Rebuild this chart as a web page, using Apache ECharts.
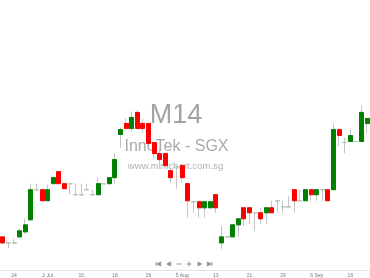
<!DOCTYPE html>
<html>
<head>
<meta charset="utf-8">
<script src="https://cdn.jsdelivr.net/npm/echarts@6/dist/echarts.min.js"></script>
<style>
html,body{margin:0;padding:0;background:#fff;}
#chart{width:370px;height:278px;}
</style>
</head>
<body>
<div id="chart"></div>
<script>
// Trading dates (category axis)
var dates = [
  '2019-06-20','2019-06-21','2019-06-24','2019-06-25','2019-06-26','2019-06-27','2019-06-28',
  '2019-07-01','2019-07-02','2019-07-03','2019-07-04','2019-07-05','2019-07-08','2019-07-09','2019-07-10',
  '2019-07-11','2019-07-12','2019-07-15','2019-07-16','2019-07-17','2019-07-18','2019-07-19','2019-07-22',
  '2019-07-23','2019-07-24','2019-07-25','2019-07-26','2019-07-29','2019-07-30','2019-07-31',
  '2019-08-01','2019-08-02','2019-08-05','2019-08-06','2019-08-07','2019-08-08','2019-08-09','2019-08-12',
  '2019-08-13','2019-08-14','2019-08-15','2019-08-16','2019-08-19','2019-08-20','2019-08-21','2019-08-22',
  '2019-08-23','2019-08-26','2019-08-27','2019-08-28','2019-08-29','2019-08-30',
  '2019-09-02','2019-09-03','2019-09-04','2019-09-05','2019-09-06','2019-09-09','2019-09-10','2019-09-11',
  '2019-09-12','2019-09-13','2019-09-16','2019-09-17','2019-09-18','2019-09-19'
];
var opens  = [0.364,0.358,0.358,0.364,0.369,0.381,0.411,0.411,0.400,0.417,0.429,0.417,0.417,0.406,0.406,
              0.411,0.406,0.406,0.417,0.417,0.423,0.466,0.477,0.472,0.488,0.477,0.477,0.458,0.447,0.447,
              0.430,0.434,0.435,0.417,0.399,0.399,0.393,0.393,0.406,0.358,0.364,0.364,0.376,0.393,0.393,
              0.388,0.388,0.388,0.393,0.400,0.394,0.394,0.411,0.400,0.400,0.411,0.406,0.411,0.411,0.411,
              0.471,0.458,0.459,0.459,0.459,0.477];
var closes = [0.358,0.358,0.358,0.370,0.376,0.411,0.411,0.400,0.411,0.423,0.417,0.412,0.417,0.406,0.406,
              0.411,0.406,0.417,0.417,0.423,0.441,0.471,0.472,0.483,0.472,0.472,0.457,0.447,0.441,0.435,
              0.423,0.434,0.423,0.400,0.399,0.393,0.399,0.399,0.393,0.364,0.364,0.376,0.382,0.382,0.388,
              0.388,0.382,0.393,0.388,0.400,0.394,0.394,0.400,0.400,0.411,0.406,0.411,0.411,0.400,0.471,
              0.465,0.458,0.465,0.459,0.488,0.482];
var lows   = [0.358,0.353,0.358,0.363,0.367,0.381,0.411,0.400,0.400,0.417,0.417,0.412,0.406,0.406,0.406,
              0.411,0.406,0.406,0.417,0.417,0.417,0.453,0.472,0.469,0.472,0.468,0.457,0.442,0.436,0.435,
              0.418,0.412,0.418,0.383,0.388,0.383,0.383,0.393,0.388,0.352,0.364,0.364,0.364,0.375,0.377,
              0.370,0.377,0.377,0.388,0.388,0.388,0.394,0.388,0.400,0.400,0.400,0.400,0.400,0.400,0.411,
              0.454,0.447,0.459,0.459,0.459,0.467];
var highs  = [0.364,0.358,0.362,0.372,0.382,0.417,0.417,0.411,0.416,0.423,0.429,0.417,0.417,0.417,0.417,
              0.417,0.411,0.423,0.417,0.423,0.447,0.473,0.482,0.489,0.490,0.482,0.477,0.458,0.452,0.447,
              0.433,0.434,0.437,0.417,0.399,0.399,0.399,0.399,0.406,0.375,0.364,0.376,0.382,0.393,0.393,
              0.388,0.393,0.393,0.400,0.400,0.400,0.405,0.411,0.411,0.411,0.411,0.411,0.411,0.411,0.477,
              0.471,0.463,0.471,0.459,0.495,0.482];
var tickDates  = ['2019-06-24','2019-07-02','2019-07-10','2019-07-18','2019-07-26','2019-08-05',
                  '2019-08-13','2019-08-21','2019-08-29','2019-09-06','2019-09-16'];
var tickLabels = ['24','2 Jul','10','18','26','5 Aug','13','21','29','6 Sep','16'];

var full = dates.map(function(d,i){ return [opens[i], closes[i], lows[i], highs[i]]; });
var bodies = dates.map(function(d,i){
  return [opens[i], closes[i], Math.min(opens[i],closes[i]), Math.max(opens[i],closes[i])];
});

var chart = echarts.init(document.getElementById('chart'));
var iconColor = '#8a8a8a';
function tri(cx, cy, dir){
  var s = 2.2;
  return {type:'polygon', shape:{points: dir>0 ? [[cx-s*0.8,cy-s],[cx-s*0.8,cy+s],[cx+s,cy]] : [[cx+s*0.8,cy-s],[cx+s*0.8,cy+s],[cx-s,cy]]},
          style:{fill:iconColor}, silent:true};
}
function bar(x, cy){ return {type:'rect', shape:{x:x, y:cy-2.2, width:0.9, height:4.4}, style:{fill:iconColor}, silent:true}; }
var iy = 264;
var icons = [
  bar(155.6, iy), tri(158.6, iy, -1), bar(160.2, iy),
  tri(168.4, iy, -1), bar(170.4, iy),
  {type:'rect', shape:{x:176.5,y:iy-0.45,width:5,height:0.9}, style:{fill:iconColor}, silent:true},
  {type:'rect', shape:{x:186.5,y:iy-0.45,width:5,height:0.9}, style:{fill:iconColor}, silent:true},
  {type:'rect', shape:{x:188.55,y:iy-2.5,width:0.9,height:5}, style:{fill:iconColor}, silent:true},
  bar(197.6, iy), tri(200.0, iy, 1),
  bar(206.8, iy), tri(209.4, iy, 1), bar(211.4, iy)
];

chart.setOption({
  animation: false,
  backgroundColor: '#ffffff',
  grid: {left: -0.65, width: 373.6, top: 0, bottom: 8, containLabel: false},
  xAxis: {
    type: 'category',
    data: dates,
    boundaryGap: true,
    axisLine: {show: true, lineStyle: {color: '#e2e2e2', width: 1}},
    axisTick: {show: false},
    splitLine: {show: false},
    axisLabel: {
      interval: function(idx, val){ return tickDates.indexOf(val) >= 0; },
      formatter: function(val){ var k = tickDates.indexOf(val); return k >= 0 ? tickLabels[k] : ''; },
      fontSize: 5, color: '#777', margin: 3, fontFamily: 'Liberation Sans'
    }
  },
  yAxis: {type: 'value', min: 0.331, max: 0.600, show: false, splitLine: {show: false}},
  graphic: [
    {type:'text', z:0, silent:true, style:{text:'M14', x:176, y:116, fill:'#a3a3a3', font:'27px "Liberation Sans", Arial, sans-serif', textAlign:'center', textVerticalAlign:'middle'}},
    {type:'text', z:0, silent:true, style:{text:'InnoTek - SGX', x:176.5, y:147, fill:'#aaaaaa', font:'16px "Liberation Sans", Arial, sans-serif', textAlign:'center', textVerticalAlign:'middle'}},
    {type:'text', z:0, silent:true, style:{text:'www.minichart.com.sg', x:175.5, y:166, fill:'#b0b0b0', font:'9.6px "Liberation Sans", Arial, sans-serif', textAlign:'center', textVerticalAlign:'middle'}}
  ].concat(icons),
  series: [
    {
      type: 'candlestick',
      data: full,
      barWidth: 4.5,
      z: 5,
      itemStyle: {color:'#c4c4c4', color0:'#c4c4c4', borderColor:'#c4c4c4', borderColor0:'#c4c4c4', borderColorDoji:'#c4c4c4', borderWidth:1}
    },
    {
      type: 'candlestick',
      data: bodies,
      barWidth: 4.5,
      z: 6,
      itemStyle: {color:'#008000', color0:'#ff0000', borderColor:'#008000', borderColor0:'#ff0000', borderColorDoji:'#b5c7b5', borderWidth:1}
    }
  ]
});
</script>
</body>
</html>
